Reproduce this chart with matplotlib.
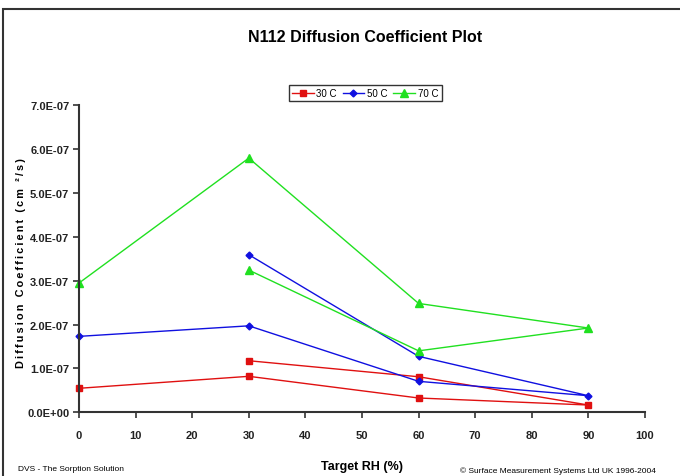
import matplotlib
matplotlib.use("Agg")
import matplotlib.pyplot as plt
from matplotlib.patches import Rectangle
from matplotlib.ticker import FuncFormatter, MultipleLocator

plt.rcParams["font.family"] = ["Liberation Sans", "DejaVu Sans"]

# sorption 0 -> 90, then desorption back to 30
rh = [0, 30, 60, 90, 60, 30]
d_30c = [0.547e-7, 0.82e-7, 0.326e-7, 0.166e-7, 0.81e-7, 1.175e-7]
d_50c = [1.73e-7, 1.97e-7, 0.706e-7, 0.378e-7, 1.275e-7, 3.59e-7]
d_70c = [2.945e-7, 5.79e-7, 2.48e-7, 1.92e-7, 1.40e-7, 3.24e-7]

series = [
    ("30 C", d_30c, "#e01010", "s", 5),
    ("50 C", d_50c, "#1010e0", "D", 3.5),
    ("70 C", d_70c, "#20e020", "^", 5.5),
]

fig = plt.figure(figsize=(6.8, 4.77), dpi=100)
ax = fig.add_axes([0.1162, 0.1335, 0.8323, 0.6443])

for label, vals, color, marker, ms in series:
    ax.plot(rh, vals, color=color, lw=1.0, marker=marker, ms=ms,
            mfc=color, mec=color, label=label, clip_on=False)

ax.set_xlim(0, 100)
ax.set_ylim(0, 7e-7)
ax.xaxis.set_major_locator(MultipleLocator(10))
ax.yaxis.set_major_locator(MultipleLocator(1e-7))
ax.yaxis.set_major_formatter(FuncFormatter(lambda v, p: f"{v:.1E}"))
ax.spines["top"].set_visible(False)
ax.spines["right"].set_visible(False)
for s in ("left", "bottom"):
    ax.spines[s].set_linewidth(1.5)
    ax.spines[s].set_color("#333333")
ax.tick_params(direction="out", length=4, width=1.2, color="#333333",
               labelsize=8)
ax.tick_params(axis="x", pad=9)
ax.tick_params(axis="y", pad=3)
for t in ax.get_xticklabels() + ax.get_yticklabels():
    t.set_fontweight("bold")
    t.set_color("#222222")

ax.set_xlabel("Target RH (%)", fontsize=9, fontweight="bold", labelpad=14)
ylab = "Diffusion Coefficient (cm ²/s)"
ax.set_ylabel("\u2009".join(ylab), fontsize=7.8, fontweight="bold")
ax.yaxis.set_label_coords(-0.093, 0.49)

fig.text(0.537, 0.922, "N112 Diffusion Coefficient Plot", ha="center",
         va="center", fontsize=11.5, fontweight="bold")

leg = fig.legend(loc="center", bbox_to_anchor=(0.537, 0.803), ncol=3,
                 fontsize=7, frameon=True, fancybox=False, edgecolor="black",
                 handlelength=2.2, columnspacing=0.6, handletextpad=0.3,
                 borderpad=0.35)
leg.get_frame().set_linewidth(1.0)

fig.text(18 / 680, 1 - 470 / 477, "DVS - The Sorption Solution", fontsize=6,
         va="center", ha="left")
fig.text(656 / 680, 1 - 471 / 477, "© Surface Measurement Systems Ltd UK 1996-2004",
         fontsize=6, va="center", ha="right")

fig.patches.append(Rectangle((3 / 680, -0.05), 1.1, 1.05 - 10 / 477,
                             transform=fig.transFigure, fill=False,
                             lw=1.5, ec="#333333", clip_on=False))

fig.savefig("out.png", dpi=100)
